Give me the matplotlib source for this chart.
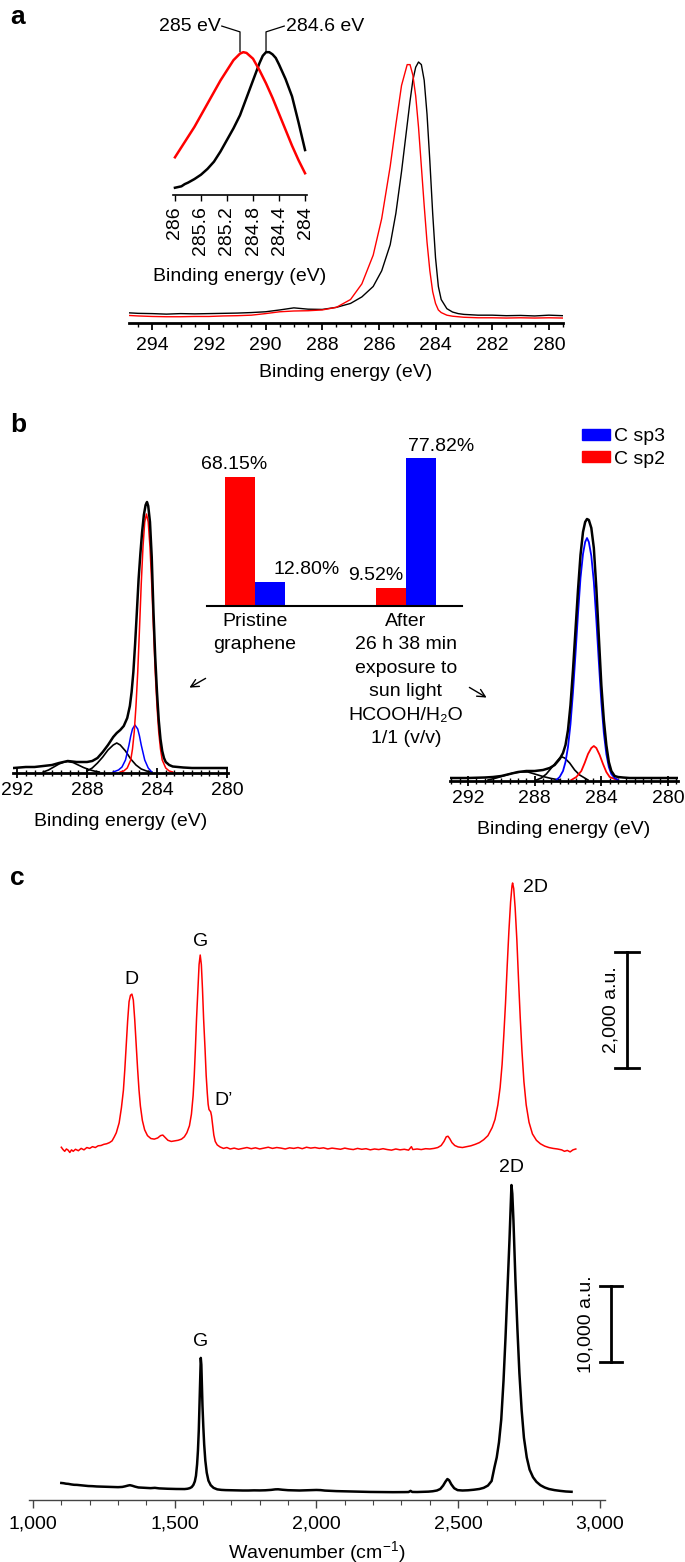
import matplotlib
matplotlib.use("Agg")
import matplotlib.pyplot as plt
from matplotlib.patches import Patch
from matplotlib.ticker import MultipleLocator, FixedLocator, FuncFormatter

plt.rcParams['font.family'] = ['Liberation Sans', 'DejaVu Sans']
plt.rcParams['font.size'] = 14
plt.rcParams['mathtext.fontset'] = 'custom'
plt.rcParams['mathtext.rm'] = 'Liberation Sans'
plt.rcParams['mathtext.it'] = 'Liberation Sans:italic'
plt.rcParams['mathtext.default'] = 'regular'

W, H = 685, 1562
RED = '#ff0000'
BLUE = '#0000ff'

# ---------------- panel a : C1s, pristine (black) and exposed (red)
a_be = [295.0, 294.5, 294.0, 293.5, 293.0, 292.5, 292.0, 291.5, 291.0, 290.5,
        290.0, 289.5, 289.0, 288.5, 288.0, 287.5, 287.0, 286.6, 286.2, 285.9,
        285.6, 285.4, 285.2, 285.0, 284.9, 284.8, 284.7, 284.6, 284.5, 284.4,
        284.3, 284.2, 284.1, 284.0, 283.9, 283.8, 283.6, 283.4, 283.2, 283.0,
        282.5, 282.0, 281.5, 281.0, 280.5, 280.0, 279.5]
a_black = [0.040, 0.037, 0.036, 0.034, 0.036, 0.035, 0.036, 0.037, 0.038, 0.040,
           0.043, 0.050, 0.058, 0.053, 0.052, 0.060, 0.075, 0.100, 0.140, 0.200,
           0.300, 0.420, 0.580, 0.760, 0.850, 0.930, 0.980, 1.000, 0.990, 0.930,
           0.800, 0.620, 0.420, 0.250, 0.140, 0.090, 0.055, 0.042, 0.036, 0.033,
           0.030, 0.030, 0.028, 0.029, 0.027, 0.030, 0.028]
a_red = [0.030, 0.027, 0.025, 0.024, 0.024, 0.025, 0.025, 0.027, 0.028, 0.030,
         0.036, 0.043, 0.046, 0.047, 0.050, 0.060, 0.090, 0.150, 0.260, 0.400,
         0.600, 0.760, 0.910, 0.990, 0.990, 0.950, 0.870, 0.750, 0.600, 0.450,
         0.310, 0.200, 0.120, 0.075, 0.050, 0.040, 0.030, 0.026, 0.024, 0.022,
         0.020, 0.020, 0.019, 0.020, 0.019, 0.020, 0.019]

# zoom on the peak maxima
ins_be_red = [286.0, 285.9, 285.8, 285.7, 285.6, 285.5, 285.4, 285.3, 285.2, 285.1,
              285.0, 284.95, 284.9, 284.8, 284.7, 284.6, 284.5, 284.4, 284.3, 284.2,
              284.1, 284.0]
ins_red = [0.26, 0.33, 0.40, 0.47, 0.55, 0.63, 0.71, 0.79, 0.86, 0.93,
           0.975, 0.985, 0.98, 0.94, 0.86, 0.77, 0.67, 0.56, 0.45, 0.34,
           0.24, 0.15]
ins_be_black = [286.0, 285.95, 285.9, 285.85, 285.8, 285.7, 285.6, 285.5, 285.4, 285.3,
                285.2, 285.1, 285.0, 284.9, 284.8, 284.7, 284.65, 284.6, 284.55, 284.5,
                284.45, 284.4, 284.3, 284.2, 284.1, 284.0]
ins_black = [0.05, 0.055, 0.06, 0.075, 0.085, 0.11, 0.14, 0.18, 0.23, 0.30,
             0.38, 0.46, 0.55, 0.67, 0.79, 0.91, 0.96, 0.985, 0.985, 0.97,
             0.945, 0.90, 0.80, 0.68, 0.50, 0.31]
peak_red, peak_black = 285.0, 284.6

# ---------------- panel b : fitted C1s
bl_be = [292.2, 291.5, 291.0, 290.5, 290.0, 289.6, 289.1, 288.6, 288.0, 287.7,
         287.4, 287.1, 286.8, 286.5, 286.3, 286.1, 285.9, 285.7, 285.55, 285.45,
         285.35, 285.25, 285.15, 285.05, 284.95, 284.85, 284.75, 284.65, 284.57, 284.5,
         284.4, 284.3, 284.2, 284.1, 284.0, 283.9, 283.8, 283.7, 283.6, 283.5,
         283.3, 283.1, 282.8, 282.5, 282.0, 281.5, 281.0, 280.5, 280.0]
bl_env = [4, 5, 5, 6, 7, 9, 11, 10, 10, 11,
          14, 20, 27, 35, 39, 42, 46, 54, 66, 80,
          100, 128, 160, 193, 218, 240, 257, 267, 270, 266,
          250, 215, 160, 115, 80, 52, 33, 21, 14, 10,
          7, 5.5, 5, 4.5, 4, 4, 4, 4, 4]
bl_sp2_be = [286.1, 285.9, 285.7, 285.5, 285.4, 285.3, 285.2, 285.1, 285.0, 284.9,
             284.8, 284.7, 284.6, 284.5, 284.4, 284.3, 284.2, 284.1, 284.0, 283.9,
             283.8, 283.7, 283.5, 283.3, 283.1]
bl_sp2 = [0, 1, 4, 12, 23, 40, 66, 100, 143, 188,
          225, 250, 258, 250, 225, 188, 143, 100, 66, 40,
          23, 12, 4, 1, 0]
bl_sp3_be = [286.5, 286.2, 286.0, 285.8, 285.6, 285.5, 285.4, 285.26, 285.1, 285.0,
             284.9, 284.7, 284.5, 284.3]
bl_sp3 = [0, 2, 5, 12, 27, 36, 43, 47, 43, 36, 27, 12, 4, 0]
bl_co_be = [288.0, 287.7, 287.4, 287.1, 286.8, 286.5, 286.3, 286.1, 285.8, 285.5,
            285.2, 284.9, 284.6, 284.3]
bl_co = [1, 4, 9, 15, 22, 27, 29, 27, 21, 13, 7, 3, 1, 0]
bl_oco_be = [290.5, 290.2, 289.9, 289.6, 289.3, 289.1, 288.8, 288.5, 288.2, 287.9,
             287.6, 287.3]
bl_oco = [0, 2, 5, 8, 10, 10.5, 9.5, 7, 4.5, 2.5, 1, 0]

br_be = [293.1, 292.0, 291.0, 290.5, 290.0, 289.5, 289.0, 288.5, 288.0, 287.5,
         287.1, 286.8, 286.5, 286.3, 286.15, 286.0, 285.85, 285.7, 285.55, 285.4,
         285.25, 285.1, 284.97, 284.86, 284.75, 284.6, 284.45, 284.3, 284.15, 284.0,
         283.85, 283.7, 283.55, 283.4, 283.2, 283.0, 282.7, 282.3, 281.8, 281.0,
         280.0, 279.4]
br_env = [2, 2, 2.5, 3, 4, 6, 8, 9, 9, 10,
          12, 15, 21, 27, 35, 50, 75, 110, 150, 190,
          225, 248, 258, 261, 260, 252, 232, 192, 143, 95,
          60, 35, 18, 9, 4, 3, 2.5, 2, 2, 2,
          2, 2]
br_sp3_be = [286.7, 286.5, 286.3, 286.15, 286.0, 285.85, 285.7, 285.55, 285.4, 285.25,
             285.1, 284.97, 284.86, 284.75, 284.6, 284.45, 284.3, 284.15, 284.0, 283.85,
             283.7, 283.55, 283.4, 283.2, 283.0]
br_sp3 = [0, 3, 9, 18, 33, 56, 88, 126, 166, 202,
          226, 238, 242, 238, 224, 198, 160, 118, 78, 47,
          26, 13, 6, 2, 0]
br_sp2_be = [285.8, 285.5, 285.2, 285.0, 284.8, 284.6, 284.45, 284.3, 284.1, 283.9,
             283.7, 283.5, 283.2, 283.0]
br_sp2 = [0, 3, 9, 17, 26, 32, 34, 32, 25, 16, 8, 3, 1, 0]
br_co_be = [287.9, 287.6, 287.3, 287.0, 286.7, 286.5, 286.35, 286.2, 285.9, 285.6,
            285.3, 285.0, 284.8]
br_co = [0, 2, 6, 12, 18, 22, 23, 22, 17, 10, 5, 2, 0]
br_oco_be = [290.8, 290.3, 289.8, 289.3, 288.8, 288.4, 288.0, 287.5, 287.0, 286.5]
br_oco = [0, 2, 4.5, 7, 8, 8, 6, 3.5, 1.5, 0]

# bar inset: sp2 / sp3 fractions
bar_groups = ['Pristine\ngraphene',
              'After\n26 h 38 min\nexposure to\nsun light\nHCOOH/H\u2082O\n1/1 (v/v)']
sp2_pct = [68.15, 9.52]
sp3_pct = [12.80, 77.82]

# ---------------- panel c : Raman
red_wn = [1100, 1106, 1112, 1118, 1124, 1130, 1136, 1142, 1150, 1160,
          1170, 1180, 1190, 1200, 1210, 1220, 1230, 1240, 1250, 1260,
          1270, 1279, 1287, 1294, 1304, 1312, 1319, 1324, 1329, 1334,
          1339, 1344, 1349, 1354, 1359, 1364, 1369, 1374, 1379, 1386,
          1394, 1404, 1416, 1428, 1440, 1450, 1458, 1466, 1476, 1488,
          1500, 1512, 1524, 1534, 1543, 1552, 1559, 1565, 1569, 1573,
          1577, 1582, 1586, 1590, 1594, 1598, 1602, 1607, 1611, 1615,
          1618, 1621, 1624, 1627, 1630, 1634, 1638, 1643, 1650, 1660,
          1672, 1684, 1696, 1710, 1725, 1740, 1755, 1770, 1785, 1800,
          1815, 1830, 1845, 1860, 1875, 1890, 1905, 1920, 1935, 1950,
          1965, 1980, 1995, 2010, 2025, 2040, 2055, 2070, 2085, 2100,
          2115, 2130, 2145, 2160, 2175, 2190, 2205, 2220, 2235, 2250,
          2265, 2280, 2295, 2310, 2325, 2335, 2340, 2355, 2370, 2385,
          2400, 2415, 2428, 2440, 2450, 2458, 2464, 2470, 2478, 2488,
          2500, 2515, 2530, 2545, 2560, 2575, 2590, 2605, 2620, 2630,
          2640, 2648, 2655, 2661, 2667, 2673, 2679, 2685, 2690, 2692,
          2696, 2701, 2707, 2713, 2719, 2725, 2732, 2740, 2750, 2762,
          2776, 2790, 2805, 2820, 2835, 2850, 2865, 2875, 2885, 2895,
          2905, 2915]
red_int = [220, 180, 150, 190, 170, 130, 175, 150, 185, 160,
           200, 175, 215, 200, 230, 215, 245, 250, 270, 280,
           300, 330, 400, 470, 640, 900, 1200, 1560, 1980, 2400,
           2730, 2840, 2860, 2760, 2420, 2000, 1580, 1210, 930, 680,
           520, 420, 370, 360, 380, 420, 430, 390, 340, 320,
           330, 340, 360, 400, 470, 590, 790, 1110, 1460, 1920,
           2430, 2950, 3370, 3534, 3370, 2950, 2430, 1920, 1460, 1150,
           960, 870, 850, 830, 760, 600, 430, 320, 260, 225,
           200, 215, 190, 205, 185, 200, 215, 195, 210, 190,
           205, 220, 200, 215, 205, 190, 210, 200, 215, 195,
           220, 205, 215, 200, 210, 190, 205, 195, 185, 205,
           190, 180, 200, 185, 195, 175, 190, 180, 195, 180,
           170, 190, 175, 185, 170, 230, 180, 190, 180, 195,
           190, 200, 215, 250, 320, 400, 410, 370, 300, 250,
           225, 215, 230, 245, 270, 300, 350, 420, 560, 700,
           950, 1250, 1650, 2150, 2700, 3350, 3950, 4450, 4730, 4776,
           4680, 4350, 3800, 3100, 2450, 1880, 1350, 950, 650, 450,
           340, 280, 240, 215, 200, 190, 175, 150, 165, 140,
           175, 190]

black_wn = [1100, 1108, 1116, 1125, 1135, 1145, 1155, 1165, 1180, 1195,
            1210, 1225, 1240, 1255, 1270, 1285, 1300, 1315, 1325, 1335,
            1342, 1350, 1360, 1372, 1385, 1400, 1415, 1430, 1445, 1460,
            1475, 1490, 1505, 1520, 1535, 1545, 1553, 1560, 1566, 1571,
            1575, 1579, 1582, 1585, 1588, 1590, 1592, 1594, 1596, 1598,
            1601, 1604, 1608, 1613, 1619, 1627, 1637, 1650, 1665, 1680,
            1700, 1720, 1740, 1760, 1780, 1800, 1820, 1840, 1855, 1865,
            1880, 1900, 1920, 1940, 1960, 1980, 2000, 2015, 2030, 2050,
            2070, 2090, 2110, 2130, 2150, 2170, 2190, 2210, 2230, 2250,
            2270, 2290, 2310, 2325, 2332, 2338, 2355, 2375, 2395, 2410,
            2425, 2437, 2447, 2455, 2462, 2468, 2476, 2486, 2498, 2515,
            2535, 2555, 2575, 2590, 2605, 2618, 2628, 2636, 2644, 2652,
            2660, 2667, 2674, 2681, 2685, 2688, 2691, 2695, 2702, 2709,
            2716, 2724, 2732, 2742, 2752, 2764, 2776, 2790, 2805, 2820,
            2840, 2860, 2880, 2900]
black_int = [2240, 2210, 2150, 2120, 2050, 2000, 1990, 1950, 1900, 1840,
             1820, 1780, 1760, 1740, 1720, 1700, 1690, 1720, 1800, 1900,
             1950, 1880, 1760, 1650, 1620, 1580, 1560, 1600, 1530, 1500,
             1480, 1460, 1450, 1440, 1440, 1480, 1560, 1700, 1990, 2450,
             3180, 4700, 6500, 9200, 13200, 16300, 18700, 17800, 15200, 12400,
             9600, 7300, 5200, 3600, 2550, 1950, 1600, 1400, 1330, 1300,
             1280, 1260, 1250, 1250, 1270, 1260, 1280, 1330, 1400, 1410,
             1350, 1290, 1270, 1250, 1270, 1300, 1320, 1300, 1240, 1200,
             1170, 1150, 1120, 1100, 1090, 1080, 1060, 1050, 1040, 1040,
             1030, 1030, 1040, 1050, 1200, 1060, 1050, 1070, 1100, 1150,
             1250, 1450, 1900, 2400, 2760, 2600, 2050, 1550, 1300, 1250,
             1280, 1350, 1450, 1600, 1900, 2500, 4300, 5600, 7600, 10600,
             15700, 21350, 27800, 34200, 38500, 41450, 40300, 36800, 29000, 22500,
             16700, 11800, 8200, 5600, 4000, 3000, 2400, 1950, 1650, 1450,
             1300, 1200, 1120, 1080]

fig = plt.figure(figsize=(W / 100, H / 100), dpi=100)


def add_ax(left, top, right, bottom, **kw):
    # axes placed by pixel box measured from the top-left corner
    ax = fig.add_axes([left / W, 1 - bottom / H, (right - left) / W, (bottom - top) / H], **kw)
    ax.set_facecolor('none')
    return ax


def only_bottom(ax, lw):
    for s in ['left', 'right', 'top']:
        ax.spines[s].set_visible(False)
    ax.spines['bottom'].set_linewidth(lw)
    ax.set_yticks([])


# ---- a
ax_a = add_ax(129, 50, 563, 323)
ax_a.plot(a_be, a_black, color='black', lw=1.0)
ax_a.plot(a_be, a_red, color=RED, lw=1.0)
ax_a.set_xlim(294.82, 279.5)
ax_a.set_ylim(0, 1.046)
only_bottom(ax_a, 2.0)
ax_a.xaxis.set_major_locator(MultipleLocator(2))
ax_a.xaxis.set_minor_locator(MultipleLocator(0.5))
ax_a.tick_params(axis='x', which='major', direction='out', length=5, width=1.3, pad=5)
ax_a.tick_params(axis='x', which='minor', direction='out', length=3, width=1.0)
ax_a.set_xlabel('Binding energy (eV)', labelpad=7)

ax_in = add_ax(173, 50, 307, 195)
ax_in.plot(ins_be_black, ins_black, color='black', lw=1.8)
ax_in.plot(ins_be_red, ins_red, color=RED, lw=1.8)
ax_in.set_xlim(286.03, 283.97)
ax_in.set_ylim(0, 1.0)
only_bottom(ax_in, 1.2)
ax_in.xaxis.set_major_locator(FixedLocator([286, 285.6, 285.2, 284.8, 284.4, 284]))
ax_in.xaxis.set_major_formatter(FuncFormatter(lambda v, p: f'{v:g}'))
ax_in.tick_params(axis='x', direction='out', length=4, width=1.0, pad=4, labelrotation=90)
ax_in.set_xlabel('Binding energy (eV)', labelpad=9)
# peak position markers
ax_in.plot([peak_red, peak_red, peak_red + 0.28], [0.99, 1.125, 1.165], color='black', lw=0.9, clip_on=False)
ax_in.plot([peak_black, peak_black, peak_black - 0.28], [0.99, 1.125, 1.165], color='black', lw=0.9, clip_on=False)
ax_in.text(peak_red + 0.3, 1.165, f'{peak_red:g} eV', ha='right', va='center')
ax_in.text(peak_black - 0.3, 1.165, f'{peak_black:g} eV', ha='left', va='center')

# ---- b, left spectrum
ax_bl = add_ax(13, 495, 228, 773)
ax_bl.plot(bl_oco_be, bl_oco, color='black', lw=1.2)
ax_bl.plot(bl_co_be, bl_co, color='black', lw=1.2)
ax_bl.plot(bl_sp3_be, bl_sp3, color=BLUE, lw=1.1)
ax_bl.plot(bl_sp2_be, bl_sp2, color=RED, lw=1.1)
ax_bl.plot(bl_be, bl_env, color='black', lw=1.8)
ax_bl.set_xlim(292.23, 279.94)
ax_bl.set_ylim(-1, 277)

ax_br = add_ax(450, 515, 678, 781)
ax_br.plot(br_oco_be, br_oco, color='black', lw=1.2)
ax_br.plot(br_co_be, br_co, color='black', lw=1.2)
ax_br.plot(br_sp2_be, br_sp2, color=RED, lw=1.3)
ax_br.plot(br_sp3_be, br_sp3, color=BLUE, lw=1.3)
ax_br.plot(br_be, br_env, color='black', lw=1.8)
ax_br.set_xlim(293.08, 279.4)
ax_br.set_ylim(-1, 265)

for ax in (ax_bl, ax_br):
    only_bottom(ax, 2.0)
    ax.xaxis.set_major_locator(MultipleLocator(4))
    ax.xaxis.set_minor_locator(MultipleLocator(0.5))
    ax.tick_params(axis='x', which='major', direction='inout', length=7, width=1.3, pad=3)
    ax.tick_params(axis='x', which='minor', direction='inout', length=4, width=1.0)
    ax.set_xlabel('Binding energy (eV)', labelpad=10)

# ---- b, bar inset
ax_bar = add_ax(207, 440, 462, 606)
pos = [0, 1]
w = 0.2
ax_bar.bar([p - w / 2 for p in pos], sp2_pct, width=w, color=RED, label='C sp2')
ax_bar.bar([p + w / 2 for p in pos], sp3_pct, width=w, color=BLUE, label='C sp3')
ax_bar.set_xlim(-0.318, 1.371)
ax_bar.set_ylim(0, 87.4)
only_bottom(ax_bar, 1.5)
ax_bar.set_xticks(pos)
ax_bar.set_xticklabels(bar_groups, linespacing=1.5)
ax_bar.tick_params(axis='x', length=0, pad=5)
lab_dx = [(-0.04, 0.24), (-0.10, 0.13)]
for i, p in enumerate(pos):
    ax_bar.text(p - w / 2 + lab_dx[i][0], sp2_pct[i] + 4, f'{sp2_pct[i]:.2f}%', ha='center', va='baseline')
    ax_bar.text(p + w / 2 + lab_dx[i][1], sp3_pct[i] + 4, f'{sp3_pct[i]:.2f}%', ha='center', va='baseline')
h = [Patch(color=BLUE), Patch(color=RED)]
fig.legend(h, ['C sp3', 'C sp2'], loc='upper left', bbox_to_anchor=(582 / W, 1 - 428 / H),
           frameon=False, borderpad=0, borderaxespad=0, handlelength=1.45, handleheight=0.5,
           handletextpad=0.2, labelspacing=0.3)

# small arrows pointing to the spectra
ax_bar.annotate('', xy=(187, H - 689), xytext=(208, H - 677), xycoords='figure pixels',
                textcoords='figure pixels', arrowprops=dict(arrowstyle='->', lw=1.0, color='black'))
ax_bar.annotate('', xy=(489, H - 699), xytext=(467, H - 686), xycoords='figure pixels',
                textcoords='figure pixels', arrowprops=dict(arrowstyle='->', lw=1.0, color='black'))

# ---- c
ax_c = add_ax(29, 1180, 605, 1500)
ax_c.plot(black_wn, black_int, color='black', lw=1.8)
ax_c.set_xlim(986, 3018)
ax_c.set_ylim(0, 42112)
only_bottom(ax_c, 1.0)
ax_c.spines['bottom'].set_color('#444444')
ax_c.xaxis.set_major_locator(MultipleLocator(500))
ax_c.xaxis.set_minor_locator(MultipleLocator(100))
ax_c.xaxis.set_major_formatter(FuncFormatter(lambda v, p: f'{v:,.0f}'))
ax_c.tick_params(axis='x', which='major', direction='out', length=6, width=1.0, color='#444444', pad=5)
ax_c.tick_params(axis='x', which='minor', direction='out', length=3.5, width=0.8, color='#444444')
ax_c.set_xlabel('Wavenumber (cm$^{-1}$)', labelpad=5)

ax_cr = add_ax(29, 870, 605, 1160, sharex=ax_c)
ax_cr.plot(red_wn, red_int, color=RED, lw=1.1)
ax_cr.set_ylim(0, 5000)
ax_cr.axis('off')

ax_cr.text(1349, 3120, 'D', ha='center', va='center')
ax_cr.text(1592, 3760, 'G', ha='center', va='center')
ax_cr.text(1640, 1020, 'D\u2019', ha='left', va='center')
ax_cr.text(2730, 4690, '2D', ha='left', va='center')
ax_c.text(1593, 20800, 'G', ha='center', va='center')
ax_c.text(2688, 43700, '2D', ha='center', va='center')

# intensity scale bars
red_bar = 2000
ax_cr.plot([3096, 3096], [1586, 1586 + red_bar], color='black', lw=2, clip_on=False)
for yb in (1586, 1586 + red_bar):
    ax_cr.plot([3052, 3138], [yb, yb], color='black', lw=2, clip_on=False)
ax_cr.text(3040, 1586 + red_bar / 2, f'{red_bar:,} a.u.', rotation=90, ha='center', va='center')

black_bar = 10000
ax_c.plot([3039, 3039], [18160, 18160 + black_bar], color='black', lw=2, clip_on=False)
for yb in (18160, 18160 + black_bar):
    ax_c.plot([3000, 3078], [yb, yb], color='black', lw=2, clip_on=False)
ax_c.text(2950, 18160 + black_bar / 2, f'{black_bar:,} a.u.', rotation=90, ha='center', va='center')

# panel letters
for letter, y in (('a', 17), ('b', 425), ('c', 878)):
    fig.text(10 / W, 1 - y / H, letter, fontsize=19, fontweight='bold', ha='left', va='center')

fig.savefig('out.png', dpi=100)
